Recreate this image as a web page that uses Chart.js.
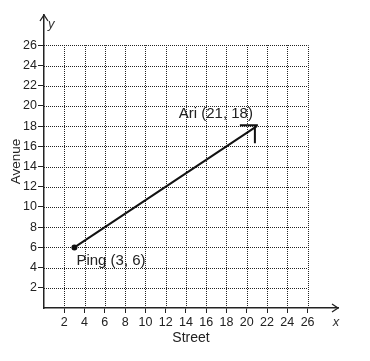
<!DOCTYPE html>
<html>
<head>
<meta charset="utf-8">
<script src="https://cdn.jsdelivr.net/npm/chart.js@4/dist/chart.umd.min.js"></script>
<style>
  html, body { margin: 0; padding: 0; background: #fff; }
  #wrap { width: 370px; height: 361px; }
</style>
</head>
<body>
<div id="wrap"><canvas id="routeChart" width="370" height="361"></canvas></div>
<script>
// data
var pointNames = ["Ping", "Ari"];
var streetValues = [3, 21];
var avenueValues = [6, 18];
var xTickValues = [2, 4, 6, 8, 10, 12, 14, 16, 18, 20, 22, 24, 26];
var yTickValues = [2, 4, 6, 8, 10, 12, 14, 16, 18, 20, 22, 24, 26];
var gridMax = 26;
var axisMax = 29;

var FONT = "'Liberation Sans', Arial, sans-serif";

var routePoints = streetValues.map(function (v, i) {
    return { x: v, y: avenueValues[i] };
});

// dotted grid that stops at 26, axis arrows, point labels
var extrasPlugin = {
    id: 'extras',
    beforeDatasetsDraw: function (chart) {
        var ctx = chart.ctx;
        var xs = chart.scales.x, ys = chart.scales.y;
        ctx.save();
        ctx.strokeStyle = '#222';
        ctx.lineWidth = 1;
        ctx.setLineDash([1, 1]);
        xTickValues.forEach(function (v) {
            var px = Math.round(xs.getPixelForValue(v)) + 0.5;
            ctx.beginPath();
            ctx.moveTo(px, ys.getPixelForValue(0));
            ctx.lineTo(px, ys.getPixelForValue(gridMax));
            ctx.stroke();
        });
        yTickValues.forEach(function (v) {
            var py = Math.round(ys.getPixelForValue(v)) + 0.5;
            ctx.beginPath();
            ctx.moveTo(xs.getPixelForValue(0), py);
            ctx.lineTo(xs.getPixelForValue(gridMax), py);
            ctx.stroke();
        });
        ctx.restore();
    },
    afterDatasetsDraw: function (chart) {
        var ctx = chart.ctx;
        var xs = chart.scales.x, ys = chart.scales.y;
        var x0 = xs.getPixelForValue(0), y0 = ys.getPixelForValue(0);
        var xEnd = xs.getPixelForValue(axisMax), yEnd = ys.getPixelForValue(axisMax);

        ctx.save();
        // axis arrow heads
        ctx.strokeStyle = '#222';
        ctx.lineWidth = 1.3;
        ctx.beginPath();
        ctx.moveTo(x0 - 4, yEnd + 6);
        ctx.lineTo(x0, yEnd);
        ctx.lineTo(x0 + 4, yEnd + 6);
        ctx.moveTo(xEnd - 6, y0 - 4);
        ctx.lineTo(xEnd, y0);
        ctx.lineTo(xEnd - 6, y0 + 4);
        ctx.stroke();

        // axis letters
        ctx.fillStyle = '#333';
        ctx.font = 'italic 13px ' + FONT;
        ctx.textBaseline = 'middle';
        ctx.textAlign = 'left';
        ctx.fillText('y', x0 + 4, yEnd + 9);
        ctx.textAlign = 'center';
        ctx.fillText('x', xEnd - 2, y0 + 14);

        // arrow head at the end of the route
        var meta = chart.getDatasetMeta(0);
        var tip = meta.data[meta.data.length - 1];
        ctx.strokeStyle = '#111';
        ctx.lineWidth = 2;
        ctx.beginPath();
        ctx.moveTo(tip.x + 1, tip.y - 1);
        ctx.lineTo(tip.x - 17, tip.y - 1);
        ctx.moveTo(tip.x - 2, tip.y - 1);
        ctx.lineTo(tip.x - 2, tip.y + 17);
        ctx.stroke();

        // point labels
        ctx.fillStyle = '#222';
        ctx.font = '15px ' + FONT;
        ctx.textBaseline = 'middle';
        meta.data.forEach(function (pt, i) {
            var txt = pointNames[i] + ' (' + streetValues[i] + ', ' + avenueValues[i] + ')';
            if (i === 0) {
                ctx.textAlign = 'left';
                ctx.fillText(txt, pt.x + 2, pt.y + 13);
            } else {
                ctx.textAlign = 'right';
                ctx.fillText(txt, pt.x - 4, pt.y - 12);
            }
        });
        ctx.restore();
    }
};

var ctx = document.getElementById("routeChart").getContext("2d");
new Chart(ctx, {
    type: 'scatter',
    data: {
        datasets: [{
            label: 'Route',
            data: routePoints,
            showLine: true,
            borderColor: '#111',
            borderWidth: 2,
            backgroundColor: '#111',
            pointRadius: function (c) { return c.dataIndex === 0 ? 2 : 0; },
            pointHoverRadius: 0
        }]
    },
    options: {
        responsive: false,
        animation: false,
        events: [],
        layout: { padding: { top: 15, right: 32, left: 0, bottom: 0 } },
        plugins: { legend: { display: false }, tooltip: { enabled: false } },
        scales: {
            x: {
                type: 'linear',
                min: 0,
                max: axisMax,
                afterBuildTicks: function (axis) {
                    axis.ticks = xTickValues.map(function (v) { return { value: v }; });
                },
                afterFit: function (axis) { axis.height = 53; },
                grid: { drawOnChartArea: false, tickLength: 5, tickColor: '#222', tickWidth: 1 },
                border: { color: '#222', width: 1.5 },
                ticks: { color: '#222', font: { family: FONT, size: 12.5 }, padding: 2, maxRotation: 0, autoSkip: false },
                title: { display: true, text: 'Street', color: '#222', font: { family: FONT, size: 14 }, padding: { top: 2, bottom: 14 } }
            },
            y: {
                type: 'linear',
                min: 0,
                max: axisMax,
                afterBuildTicks: function (axis) {
                    axis.ticks = yTickValues.map(function (v) { return { value: v }; });
                },
                afterFit: function (axis) { axis.width = 44; },
                grid: { drawOnChartArea: false, tickLength: 6, tickColor: '#222', tickWidth: 1 },
                border: { color: '#222', width: 1.5 },
                ticks: { color: '#222', font: { family: FONT, size: 12.5 }, padding: 1, autoSkip: false },
                title: { display: true, text: 'Avenue', color: '#222', font: { family: FONT, size: 13.5 }, padding: { top: 8, bottom: 2 } }
            }
        }
    },
    plugins: [extrasPlugin]
});
</script>
</body>
</html>
